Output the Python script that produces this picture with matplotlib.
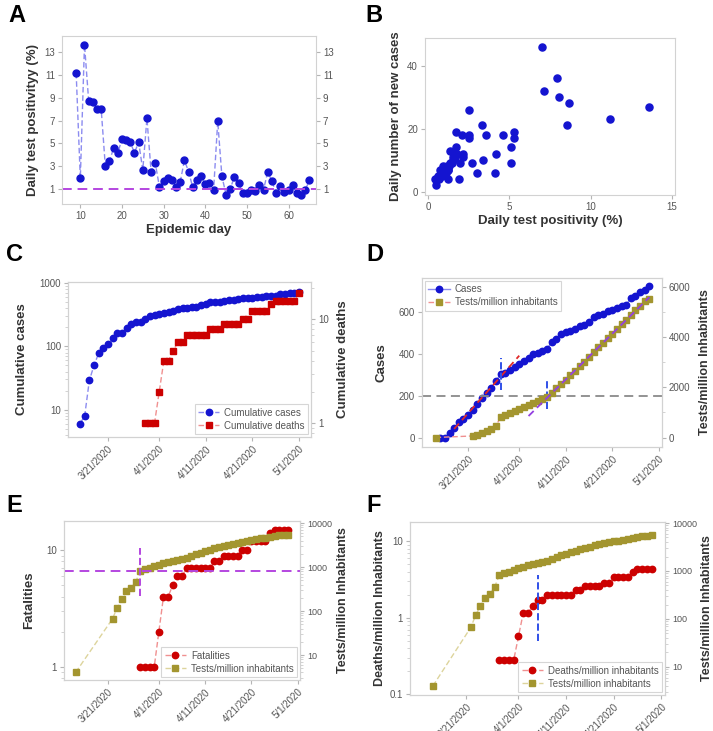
import matplotlib
matplotlib.use('Agg')
import matplotlib.pyplot as plt
import matplotlib.ticker as mticker
import numpy as np
import pandas as pd

plt.rcParams['font.family'] = ['Liberation Sans', 'DejaVu Sans']

# ---- data ----
# A: daily test positivity by epidemic day
epi_days = np.arange(9, 66)
positivity = [11.2, 1.9, 13.7, 8.76, 8.6, 8.0, 8.06, 3.0, 3.4, 4.6, 4.15, 5.35, 5.3, 5.1,
              4.15, 5.1, 2.65, 7.2, 2.5, 3.25, 1.15, 1.65, 1.97, 1.76, 1.18, 1.62, 3.5, 2.5,
              1.12, 1.76, 2.1, 1.4, 1.5, 0.85, 6.94, 2.1, 0.47, 0.97, 2.06, 1.53, 0.6, 0.65,
              0.88, 0.76, 1.3, 0.9, 2.5, 1.68, 0.65, 1.24, 0.74, 0.88, 1.3, 0.65, 0.44, 0.85, 1.74]
positivity_ref = 1.0

# B: positivity vs daily new cases
b_positivity = [6.98, 7.95, 7.12, 8.05, 8.69, 13.6, 2.5, 11.2, 8.55, 3.3, 1.7, 5.3, 2.1, 2.5,
                3.55, 4.58, 2.5, 5.3, 1.72, 5.07, 1.33, 2.15, 4.17, 1.75, 1.64, 2.15, 1.54, 3.39,
                1.95, 2.67, 5.09, 1.33, 1.13, 0.92, 1.23, 0.72, 1.03, 2.98, 4.13, 0.62, 0.82,
                0.41, 1.19, 1.91, 0.47, 0.72, 0.85, 1.0, 1.45, 1.1, 0.65, 1.6, 1.3, 0.9, 1.5,
                1.2, 0.75]
b_new_cases = [46, 36, 32, 30, 28, 27, 26, 23, 21, 21, 19, 19, 18, 18, 18, 18, 17, 17, 14, 14,
               13, 12, 12, 12, 11, 11, 10, 10, 9, 9, 9, 9, 8, 8, 7, 7, 6, 6, 6, 5, 6, 4, 4, 4,
               2, 5, 5, 7, 9, 6, 4, 12, 8, 6, 11, 7, 5]

# C: cumulative cases / deaths
dates_c_cases = pd.date_range('2020-03-15', '2020-05-01').to_numpy()
cum_cases_c = [6, 8, 29, 50, 78, 94, 109, 135, 162, 165, 192, 228, 242, 240, 268, 305, 311,
               322, 340, 351, 367, 383, 398, 406, 413, 425, 457, 471, 495, 502, 510, 517, 532,
               537, 552, 573, 586, 590, 602, 610, 619, 629, 633, 665, 673, 692, 703, 721]
dates_c_deaths = pd.date_range('2020-03-29', '2020-05-01').to_numpy()
cum_deaths_c = [1, 1, 1, 2, 4, 4, 5, 6, 6, 7, 7, 7, 7, 7, 8, 8, 8, 9, 9, 9, 9, 10, 10,
                12, 12, 12, 12, 14, 15, 15, 15, 15, 15, 18]

# D, E, F
dates_cases = pd.date_range('2020-03-15', '2020-04-29').to_numpy()
cases = [3, 3, 27, 51, 76, 92, 110, 133, 162, 189, 217, 240, 273, 305, 311, 322, 340, 351,
         367, 383, 398, 406, 413, 425, 457, 471, 495, 502, 510, 517, 532, 537, 552, 573, 586,
         590, 602, 610, 619, 629, 633, 665, 673, 692, 703, 721]
dates_tests = np.concatenate([pd.to_datetime(['2020-03-14']).to_numpy(),
                              pd.date_range('2020-03-22', '2020-04-29').to_numpy()])
tests_per_million = [4, 67, 120, 186, 280, 333, 466, 825, 891, 971, 1051, 1131, 1224, 1304,
                     1383, 1463, 1516, 1623, 1756, 1955, 2128, 2288, 2474, 2660, 2846, 3019,
                     3219, 3405, 3591, 3777, 3950, 4123, 4309, 4495, 4682, 4868, 5054, 5240,
                     5413, 5506]
dates_deaths = pd.date_range('2020-03-28', '2020-04-29').to_numpy()
fatalities = [1, 1, 1, 1, 2, 4, 4, 5, 6, 6, 7, 7, 7, 7, 7, 7, 8, 8, 9, 9, 9, 9, 10, 10,
              12, 12, 12, 12, 14, 15, 15, 15, 15]
deaths_per_million = [0.28, 0.28, 0.28, 0.28, 0.57, 1.15, 1.15, 1.43, 1.71, 1.71, 2.0, 2.0,
                      2.0, 2.0, 2.0, 2.0, 2.29, 2.29, 2.57, 2.57, 2.57, 2.57, 2.86, 2.86,
                      3.43, 3.43, 3.43, 3.43, 4.0, 4.29, 4.29, 4.29, 4.29]

cases_threshold = 200
case_fit = ('2020-03-17', '2020-03-28')
case_fit_draw = ('2020-03-18', '2020-04-01')
test_fit = ('2020-04-07', '2020-04-29')
test_fit_draw = ('2020-04-03', '2020-04-29')
break_d = [('2020-03-28', 229, 379), ('2020-04-07', 141, 276)]   # date, cases span
break_e = ('2020-03-28', 220, 2760)                               # date, tests span
break_f = ('2020-04-05', 0.5, 3.6)                                # date, deaths/million span

tick_dates = pd.to_datetime(['2020-03-21', '2020-04-01', '2020-04-11',
                             '2020-04-21', '2020-05-01']).to_numpy()
tick_labels = ['3/21/2020', '4/1/2020', '4/11/2020', '4/21/2020', '5/1/2020']

# ---- colours ----
BLUE, BLUE_LN = '#1414d0', '#8c8cf0'
RED, RED_LN = '#cc0000', '#f09090'
OLIVE, OLIVE_LN = '#a3952f', '#ddd49c'
PURPLE = '#b446e0'
LAB = '#333333'

W, H = 713, 731
fig = plt.figure(figsize=(W / 100, H / 100), dpi=100)


def rect(l, r, t, b):
    return [l / W, 1 - b / H, (r - l) / W, (b - t) / H]


def style(ax):
    for s in ax.spines.values():
        s.set_color('#d2d2d2')
    ax.tick_params(colors='#b5b5b5', labelcolor='#555555', labelsize=7, length=3, width=0.8,
                   pad=2)
    ax.tick_params(which='minor', colors='#cccccc', length=2)


def ylab(ax, text, size=9.5, **kw):
    ax.set_ylabel(text, fontsize=size, fontweight='bold', color=LAB, **kw)


def date_axis(ax, lo, hi):
    ax.set_xlim(np.datetime64(lo), np.datetime64(hi))
    ax.set_xticks(tick_dates)
    ax.set_xticklabels(tick_labels, rotation=45, ha='right', rotation_mode='anchor',
                       fontsize=6.5)


def log_ticks(ax, ticks, labels):
    ax.set_yticks(ticks)
    ax.set_yticklabels(labels)
    ax.yaxis.set_minor_formatter(mticker.NullFormatter())


def legend(ax, handles, labels, loc):
    lg = ax.legend(handles, labels, loc=loc, fontsize=7, frameon=True, fancybox=False,
                   borderaxespad=0.3, handlelength=2.2, handletextpad=0.5,
                   labelcolor='#555555', borderpad=0.35, labelspacing=0.3)
    lg.get_frame().set_edgecolor('#cccccc')
    lg.get_frame().set_linewidth(0.8)


# ---- A ----
axA = fig.add_axes(rect(62, 316, 36, 204))
axA.plot(epi_days, positivity, ls='--', color=BLUE_LN, lw=1, marker='o', ms=5,
         mfc=BLUE, mec=BLUE, dashes=(4, 2))
axA.axhline(positivity_ref, color=PURPLE, ls='--', lw=1.4, dashes=(5, 3))
axA.set_xlim(5.6, 66.6)
axA.set_ylim(-0.35, 14.45)
axA.set_yticks([1, 3, 5, 7, 9, 11, 13])
axA.set_xticks([10, 20, 30, 40, 50, 60])
axA.tick_params(right=True, labelright=True)
style(axA)
ylab(axA, 'Daily test positivityy (%)')
axA.set_xlabel('Epidemic day', fontsize=9.5, fontweight='bold', color=LAB, labelpad=2)

# ---- B ----
axB = fig.add_axes(rect(425, 675, 38, 195))
axB.scatter(b_positivity, b_new_cases, s=26, color=BLUE, zorder=3)
axB.set_xlim(-0.2, 15.2)
axB.set_ylim(-1.1, 48.8)
axB.set_xticks([0, 5, 10, 15])
axB.set_yticks([0, 20, 40])
style(axB)
ylab(axB, 'Daily number of new cases')
axB.set_xlabel('Daily test positivity (%)', fontsize=9.5, fontweight='bold', color=LAB,
               labelpad=2)

# ---- C ----
axC = fig.add_axes(rect(68, 311, 282, 437))
axC2 = axC.twinx()
hc, = axC.plot(dates_c_cases, cum_cases_c, ls='--', color=BLUE_LN, lw=1, marker='o', ms=4.6,
               mfc=BLUE, mec=BLUE, dashes=(4, 2))
hd, = axC2.plot(dates_c_deaths, cum_deaths_c, ls='--', color=RED_LN, lw=1, marker='s', ms=4.2,
                mfc=RED, mec=RED, dashes=(4, 2))
axC.set_yscale('log')
axC2.set_yscale('log')
axC.set_ylim(3.7, 1040)
axC2.set_ylim(0.73, 23)
log_ticks(axC, [10, 100, 1000], ['10', '100', '1000'])
log_ticks(axC2, [1, 10], ['1', '10'])
date_axis(axC, '2020-03-12T10', '2020-05-03T14')
for a in (axC, axC2):
    style(a)
ylab(axC, 'Cumulative cases', labelpad=8)
ylab(axC2, 'Cumulative deaths', labelpad=6)
legend(axC2, [hc, hd], ['Cumulative cases', 'Cumulative deaths'], 'lower right')

# ---- D ----
axD = fig.add_axes(rect(422, 662, 278, 447))
axD2 = axD.twinx()
hc, = axD.plot(dates_cases, cases, ls='-', color=BLUE_LN, lw=1, marker='o', ms=4.6,
               mfc=BLUE, mec=BLUE)
ht, = axD2.plot(dates_tests, tests_per_million, ls='--', color=RED_LN, lw=1, marker='s',
                ms=4.2, mfc=OLIVE, mec=OLIVE, dashes=(4, 2))
# linear trends
dn_cases = pd.to_datetime(dates_cases)
m = (dn_cases >= case_fit[0]) & (dn_cases <= case_fit[1])
xd = (dn_cases - dn_cases[0]).days.to_numpy()
p = np.polyfit(xd[m], np.array(cases)[m], 1)
xx = pd.to_datetime(list(case_fit_draw))
xxd = (xx - dn_cases[0]).days.to_numpy()
axD.plot(xx.to_numpy(), np.polyval(p, xxd), color='#e02828', ls='--', lw=1.3, dashes=(4, 2.5))
dn_tests = pd.to_datetime(dates_tests)
m = (dn_tests >= test_fit[0]) & (dn_tests <= test_fit[1])
xt = (dn_tests - dn_tests[0]).days.to_numpy()
p = np.polyfit(xt[m], np.array(tests_per_million)[m], 1)
xx = pd.to_datetime(list(test_fit_draw))
xxd = (xx - dn_tests[0]).days.to_numpy()
axD2.plot(xx.to_numpy(), np.polyval(p, xxd), color='#9440e0', ls='--', lw=1.3, dashes=(4, 2.5))
axD.axhline(cases_threshold, color='#8a8a8a', ls='--', lw=1.3, dashes=(5, 3))
for d, y0, y1 in break_d:
    axD.vlines(np.datetime64(d), y0, y1, color='#3050e8', ls='--', lw=1.4)
axD.set_ylim(-41, 760)
axD2.set_ylim(-372, 6340)
axD.set_yticks([0, 200, 400, 600])
axD2.set_yticks([0, 2000, 4000, 6000])
axD2.yaxis.set_minor_locator(mticker.MultipleLocator(1000))
date_axis(axD, '2020-03-11T02', '2020-05-01T17')
for a in (axD, axD2):
    style(a)
ylab(axD, 'Cases', labelpad=8)
ylab(axD2, 'Tests/million Inhabitants', size=9, labelpad=6)
legend(axD2, [hc, ht], ['Cases', 'Tests/million inhabitants'], 'upper left')

# ---- E ----
axE = fig.add_axes(rect(64, 300, 521, 680))
axE2 = axE.twinx()
hf, = axE.plot(dates_deaths, fatalities, ls='--', color=RED_LN, lw=1, marker='o', ms=4.6,
               mfc=RED, mec=RED, dashes=(4, 2))
ht, = axE2.plot(dates_tests, tests_per_million, ls='--', color=OLIVE_LN, lw=1, marker='s',
                ms=4.2, mfc=OLIVE, mec=OLIVE, dashes=(4, 2))
axE2.axhline(tests_per_million[7], color=PURPLE, ls='--', lw=1.4, dashes=(5, 3))
axE2.vlines(np.datetime64(break_e[0]), break_e[1], break_e[2], color=PURPLE, ls='--', lw=1.4)
axE.set_yscale('log')
axE2.set_yscale('log')
axE.set_ylim(0.77, 17.8)
axE2.set_ylim(2.7, 11200)
log_ticks(axE, [1, 10], ['1', '10'])
log_ticks(axE2, [10, 100, 1000, 10000], ['10', '100', '1000', '10000'])
date_axis(axE, '2020-03-11T12', '2020-05-01T12')
for a in (axE, axE2):
    style(a)
axE2.tick_params(labelsize=6.5)
ylab(axE, 'Fatalities', labelpad=8)
ylab(axE2, 'Tests/million Inhabitants', size=9, labelpad=4)
legend(axE2, [hf, ht], ['Fatalities', 'Tests/million inhabitants'], 'lower right')

# ---- F ----
axF = fig.add_axes(rect(410, 665, 522, 695))
axF2 = axF.twinx()
hf, = axF.plot(dates_deaths, deaths_per_million, ls='--', color=RED_LN, lw=1, marker='o',
               ms=4.6, mfc=RED, mec=RED, dashes=(4, 2))
ht, = axF2.plot(dates_tests, tests_per_million, ls='--', color=OLIVE_LN, lw=1, marker='s',
                ms=4.2, mfc=OLIVE, mec=OLIVE, dashes=(4, 2))
axF.vlines(np.datetime64(break_f[0]), break_f[1], break_f[2], color='#3050e8', ls='--', lw=1.4)
axF.set_yscale('log')
axF2.set_yscale('log')
axF.set_ylim(0.098, 17.8)
axF2.set_ylim(2.6, 10500)
log_ticks(axF, [0.1, 1, 10], ['0.1', '1', '10'])
log_ticks(axF2, [10, 100, 1000, 10000], ['10', '100', '1000', '10000'])
date_axis(axF, '2020-03-09T05', '2020-05-01T19')
for a in (axF, axF2):
    style(a)
axF2.tick_params(labelsize=6.5)
ylab(axF, 'Deaths/million Inhabitants', size=9, labelpad=3)
ylab(axF2, 'Tests/million Inhabitants', size=9, labelpad=3)
legend(axF2, [hf, ht], ['Deaths/million inhabitants', 'Tests/million inhabitants'],
       'lower right')

# panel letters
for letter, x, y in [('A', 8, 15), ('B', 365, 15), ('C', 6, 255), ('D', 366, 255),
                     ('E', 6, 505), ('F', 366, 505)]:
    fig.text(x / W, 1 - y / H, letter, fontsize=17, fontweight='bold', va='center')

fig.savefig('out.png', dpi=100)
